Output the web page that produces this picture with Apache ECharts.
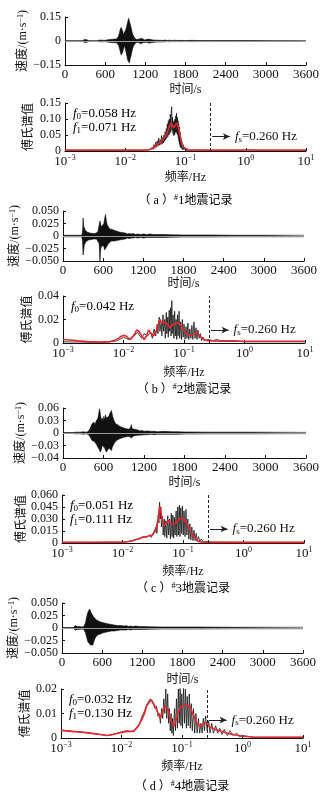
<!DOCTYPE html>
<html>
<head>
<meta charset="utf-8">
<script src="https://cdn.jsdelivr.net/npm/echarts@6.0.0/dist/echarts.min.js"></script>
<style>
html,body{margin:0;padding:0;background:#fff;}
#chart{width:326px;height:797px;}
</style>
</head>
<body>
<div id="chart"></div>
<script>
// ---------- velocity records: envelope rows [time s, upper, lower] ----------
const waveA = [[0,0.002,-0.002],[260,0.002,-0.002],[280,0.006,-0.005],[295,0.010,-0.009],[310,0.012,-0.011],[325,0.008,-0.008],[340,0.004,-0.004],[360,0.002,-0.002],[480,0.002,-0.002],[500,0.004,-0.004],[520,0.006,-0.005],[540,0.003,-0.003],[560,0.005,-0.005],[580,0.007,-0.006],[600,0.004,-0.004],[620,0.006,-0.006],[640,0.008,-0.007],[660,0.006,-0.006],[680,0.010,-0.009],[695,0.014,-0.012],[710,0.011,-0.010],[725,0.016,-0.014],[740,0.012,-0.011],[755,0.009,-0.009],[770,0.012,-0.011],[785,0.018,-0.016],[800,0.030,-0.026],[812,0.050,-0.045],[825,0.072,-0.065],[838,0.085,-0.088],[850,0.078,-0.080],[862,0.062,-0.070],[875,0.040,-0.045],[888,0.028,-0.030],[900,0.045,-0.040],[912,0.075,-0.068],[925,0.100,-0.095],[937,0.118,-0.120],[950,0.142,-0.130],[962,0.125,-0.138],[975,0.105,-0.110],[988,0.085,-0.090],[1000,0.060,-0.065],[1012,0.040,-0.045],[1025,0.028,-0.030],[1040,0.018,-0.020],[1055,0.012,-0.012],[1070,0.009,-0.009],[1090,0.008,-0.008],[1110,0.013,-0.012],[1130,0.018,-0.017],[1150,0.016,-0.015],[1170,0.010,-0.010],[1190,0.006,-0.006],[1215,0.008,-0.008],[1240,0.012,-0.011],[1260,0.014,-0.013],[1280,0.009,-0.009],[1300,0.011,-0.010],[1320,0.006,-0.006],[1345,0.008,-0.007],[1370,0.005,-0.005],[1395,0.007,-0.006],[1420,0.004,-0.004],[1445,0.006,-0.006],[1470,0.004,-0.004],[1500,0.006,-0.005],[1530,0.003,-0.003],[1560,0.005,-0.005],[1600,0.003,-0.003],[1640,0.005,-0.004],[1680,0.003,-0.003],[1720,0.004,-0.004],[1800,0.003,-0.003],[1900,0.004,-0.004],[2000,0.003,-0.003],[2200,0.003,-0.003],[2500,0.003,-0.003],[2800,0.003,-0.003],[3100,0.002,-0.002],[3400,0.002,-0.002],[3600,0.002,-0.002]];

const waveB = [[0,0.0015,-0.0015],[280,0.0015,-0.0015],[292,0.008,-0.010],[300,0.036,-0.038],[308,0.020,-0.030],[318,0.016,-0.018],[330,0.012,-0.014],[345,0.010,-0.011],[360,0.008,-0.009],[380,0.007,-0.008],[400,0.006,-0.006],[420,0.008,-0.007],[440,0.005,-0.006],[460,0.007,-0.006],[480,0.005,-0.005],[500,0.006,-0.006],[520,0.008,-0.007],[540,0.012,-0.015],[552,0.030,-0.050],[562,0.032,-0.028],[574,0.018,-0.020],[586,0.022,-0.024],[598,0.016,-0.018],[610,0.025,-0.020],[622,0.035,-0.028],[635,0.043,-0.030],[648,0.030,-0.022],[660,0.022,-0.018],[672,0.025,-0.020],[685,0.018,-0.014],[698,0.014,-0.012],[712,0.016,-0.013],[726,0.012,-0.010],[740,0.013,-0.011],[755,0.010,-0.009],[770,0.011,-0.010],[785,0.008,-0.008],[800,0.010,-0.009],[820,0.007,-0.007],[840,0.008,-0.008],[860,0.006,-0.006],[880,0.007,-0.007],[900,0.005,-0.005],[930,0.006,-0.006],[960,0.004,-0.004],[990,0.005,-0.005],[1020,0.004,-0.004],[1050,0.005,-0.004],[1080,0.003,-0.003],[1120,0.004,-0.004],[1160,0.003,-0.003],[1200,0.004,-0.004],[1250,0.003,-0.003],[1300,0.004,-0.003],[1350,0.003,-0.003],[1400,0.003,-0.003],[1500,0.003,-0.003],[1600,0.0025,-0.0025],[1800,0.002,-0.002],[2200,0.002,-0.002],[2600,0.0015,-0.0015],[3000,0.0015,-0.0015],[3600,0.0015,-0.0015]];

const waveC = [[0,0.001,-0.001],[150,0.001,-0.001],[180,0.002,-0.002],[260,0.002,-0.002],[300,0.003,-0.003],[340,0.002,-0.002],[370,0.003,-0.003],[385,0.006,-0.005],[400,0.010,-0.009],[415,0.016,-0.013],[430,0.022,-0.018],[445,0.018,-0.022],[460,0.026,-0.020],[475,0.020,-0.018],[490,0.028,-0.026],[505,0.024,-0.022],[518,0.036,-0.030],[530,0.048,-0.038],[542,0.058,-0.042],[555,0.045,-0.046],[568,0.030,-0.040],[580,0.036,-0.030],[592,0.028,-0.034],[605,0.040,-0.030],[618,0.032,-0.036],[630,0.044,-0.040],[642,0.036,-0.046],[655,0.040,-0.050],[668,0.034,-0.044],[680,0.040,-0.036],[692,0.046,-0.040],[705,0.050,-0.036],[718,0.054,-0.042],[730,0.044,-0.034],[742,0.036,-0.030],[755,0.030,-0.026],[768,0.026,-0.022],[780,0.022,-0.020],[795,0.024,-0.018],[810,0.020,-0.016],[825,0.022,-0.018],[840,0.016,-0.014],[855,0.019,-0.015],[870,0.014,-0.012],[885,0.016,-0.013],[900,0.012,-0.010],[920,0.013,-0.011],[940,0.010,-0.009],[960,0.012,-0.010],[980,0.009,-0.008],[1000,0.014,-0.009],[1012,0.020,-0.012],[1025,0.010,-0.008],[1045,0.008,-0.007],[1065,0.009,-0.007],[1085,0.006,-0.006],[1110,0.007,-0.006],[1140,0.005,-0.005],[1170,0.006,-0.005],[1200,0.004,-0.004],[1250,0.005,-0.004],[1300,0.004,-0.003],[1350,0.004,-0.004],[1400,0.003,-0.003],[1500,0.004,-0.003],[1600,0.003,-0.003],[1700,0.003,-0.003],[1800,0.0025,-0.0025],[2200,0.002,-0.002],[2800,0.002,-0.002],[3600,0.0015,-0.0015]];

const waveD = [[0,0.001,-0.001],[170,0.001,-0.001],[185,0.003,-0.003],[200,0.005,-0.004],[215,0.004,-0.004],[230,0.003,-0.003],[250,0.002,-0.002],[320,0.002,-0.002],[335,0.004,-0.004],[350,0.010,-0.009],[362,0.018,-0.016],[375,0.026,-0.022],[388,0.032,-0.028],[400,0.036,-0.030],[412,0.038,-0.032],[425,0.034,-0.034],[438,0.030,-0.036],[450,0.026,-0.038],[462,0.028,-0.034],[475,0.022,-0.028],[488,0.020,-0.022],[500,0.018,-0.020],[515,0.016,-0.016],[530,0.018,-0.016],[545,0.014,-0.013],[560,0.016,-0.014],[575,0.012,-0.012],[590,0.014,-0.012],[605,0.011,-0.010],[620,0.013,-0.011],[635,0.010,-0.009],[650,0.012,-0.010],[665,0.009,-0.008],[680,0.011,-0.009],[700,0.008,-0.007],[720,0.010,-0.008],[740,0.007,-0.006],[760,0.009,-0.007],[780,0.006,-0.006],[800,0.008,-0.006],[825,0.005,-0.005],[850,0.007,-0.006],[875,0.005,-0.004],[900,0.006,-0.005],[930,0.004,-0.004],[960,0.005,-0.004],[990,0.003,-0.003],[1020,0.004,-0.004],[1060,0.003,-0.003],[1100,0.004,-0.003],[1150,0.003,-0.003],[1200,0.003,-0.003],[1300,0.0025,-0.0025],[1500,0.002,-0.002],[2000,0.002,-0.002],[2600,0.0015,-0.0015],[3600,0.0015,-0.0015]];

// ---------- Fourier spectra [frequency Hz, amplitude] ----------
const specARaw = [[0.001,0.0015],[0.0015,0.002],[0.002,0.001],[0.003,0.0015],[0.004,0.001],[0.006,0.002],[0.008,0.001],[0.0095,0.002],[0.0100,0.006],[0.0105,0.0015],[0.013,0.002],[0.016,0.001],[0.02,0.002],[0.023,0.003],[0.026,0.005],[0.028,0.012],[0.029,0.005],[0.030,0.020],[0.031,0.008],[0.032,0.028],[0.033,0.012],[0.034,0.032],[0.035,0.015],[0.036,0.040],[0.037,0.018],[0.038,0.035],[0.039,0.020],[0.040,0.048],[0.041,0.022],[0.042,0.042],[0.043,0.025],[0.044,0.050],[0.045,0.030],[0.046,0.060],[0.047,0.035],[0.048,0.070],[0.049,0.040],[0.050,0.085],[0.051,0.045],[0.052,0.095],[0.053,0.050],[0.054,0.100],[0.055,0.055],[0.056,0.115],[0.057,0.060],[0.058,0.125],[0.059,0.138],[0.060,0.065],[0.061,0.105],[0.062,0.055],[0.063,0.090],[0.064,0.048],[0.065,0.095],[0.066,0.050],[0.067,0.100],[0.068,0.058],[0.069,0.110],[0.070,0.060],[0.071,0.118],[0.072,0.055],[0.073,0.105],[0.074,0.050],[0.075,0.095],[0.076,0.040],[0.077,0.085],[0.078,0.030],[0.079,0.075],[0.080,0.020],[0.081,0.060],[0.082,0.012],[0.083,0.045],[0.085,0.008],[0.087,0.030],[0.089,0.005],[0.091,0.020],[0.093,0.004],[0.095,0.012],[0.098,0.003],[0.10,0.007],[0.11,0.002],[0.13,0.003],[0.16,0.002],[0.2,0.002],[0.3,0.001],[0.5,0.0015],[0.8,0.001],[1.0,0.004],[1.02,0.001],[2,0.001],[5,0.001],[10,0.001]];
const specASmooth = [[0.001,0.003],[0.01,0.003],[0.02,0.003],[0.025,0.004],[0.028,0.008],[0.031,0.014],[0.034,0.020],[0.037,0.024],[0.040,0.030],[0.043,0.038],[0.046,0.045],[0.049,0.055],[0.052,0.068],[0.055,0.080],[0.058,0.087],[0.061,0.080],[0.064,0.072],[0.067,0.078],[0.071,0.087],[0.075,0.078],[0.079,0.060],[0.083,0.040],[0.087,0.022],[0.092,0.012],[0.098,0.006],[0.11,0.004],[0.15,0.003],[0.3,0.003],[1,0.003],[10,0.003]];

const specBRaw = [[0.001,0.001],[0.002,0.0008],[0.004,0.0005],[0.006,0.001],[0.008,0.002],[0.01,0.005],[0.012,0.003],[0.015,0.006],[0.017,0.009],[0.02,0.004],[0.022,0.008],[0.025,0.006],[0.028,0.009],[0.030,0.004],[0.032,0.012],[0.034,0.006],[0.036,0.016],[0.037,0.008],[0.039,0.022],[0.040,0.010],[0.042,0.018],[0.043,0.006],[0.045,0.024],[0.046,0.010],[0.048,0.020],[0.049,0.004],[0.051,0.026],[0.052,0.008],[0.054,0.022],[0.055,0.005],[0.057,0.028],[0.058,0.010],[0.060,0.030],[0.061,0.006],[0.063,0.036],[0.064,0.008],[0.066,0.024],[0.068,0.004],[0.070,0.027],[0.072,0.006],[0.074,0.020],[0.076,0.003],[0.078,0.024],[0.080,0.006],[0.083,0.027],[0.085,0.004],[0.088,0.018],[0.091,0.003],[0.094,0.020],[0.097,0.005],[0.100,0.016],[0.104,0.003],[0.108,0.014],[0.112,0.004],[0.116,0.017],[0.120,0.003],[0.125,0.012],[0.130,0.004],[0.135,0.015],[0.140,0.003],[0.146,0.018],[0.152,0.004],[0.158,0.013],[0.164,0.003],[0.170,0.011],[0.178,0.004],[0.186,0.008],[0.195,0.002],[0.205,0.005],[0.22,0.002],[0.25,0.003],[0.3,0.002],[0.35,0.003],[0.4,0.002],[0.5,0.002],[0.7,0.002],[1,0.001],[2,0.001],[5,0.001],[10,0.001]];
const specBSmooth = [[0.001,0.003],[0.0013,0.0025],[0.0018,0.0018],[0.0025,0.0012],[0.004,0.0008],[0.006,0.0012],[0.007,0.002],[0.008,0.0035],[0.009,0.0055],[0.010,0.0065],[0.011,0.006],[0.012,0.004],[0.013,0.003],[0.014,0.004],[0.015,0.007],[0.0165,0.011],[0.018,0.010],[0.020,0.006],[0.022,0.003],[0.024,0.006],[0.026,0.011],[0.028,0.009],[0.0316,0.006],[0.034,0.009],[0.037,0.014],[0.040,0.020],[0.043,0.017],[0.046,0.016],[0.049,0.018],[0.052,0.017],[0.055,0.015],[0.058,0.013],[0.062,0.015],[0.067,0.016],[0.072,0.015],[0.077,0.017],[0.081,0.018],[0.086,0.016],[0.092,0.014],[0.098,0.011],[0.104,0.009],[0.115,0.007],[0.13,0.007],[0.145,0.0075],[0.162,0.009],[0.175,0.007],[0.19,0.005],[0.21,0.003],[0.25,0.002],[0.4,0.0015],[1,0.0015],[3,0.0015],[10,0.0015]];

const specCRaw = [[0.001,0.0008],[0.003,0.0008],[0.006,0.001],[0.01,0.001],[0.013,0.002],[0.016,0.004],[0.019,0.005],[0.022,0.008],[0.025,0.007],[0.028,0.010],[0.030,0.007],[0.032,0.012],[0.034,0.010],[0.036,0.020],[0.037,0.012],[0.039,0.035],[0.040,0.025],[0.041,0.051],[0.042,0.030],[0.043,0.045],[0.044,0.020],[0.046,0.033],[0.047,0.010],[0.049,0.030],[0.050,0.008],[0.052,0.028],[0.054,0.006],[0.056,0.034],[0.058,0.010],[0.060,0.030],[0.062,0.005],[0.064,0.037],[0.066,0.008],[0.068,0.035],[0.070,0.006],[0.072,0.032],[0.074,0.010],[0.077,0.040],[0.079,0.008],[0.082,0.045],[0.084,0.010],[0.087,0.047],[0.089,0.008],[0.092,0.044],[0.095,0.012],[0.098,0.046],[0.101,0.010],[0.104,0.040],[0.108,0.008],[0.112,0.042],[0.116,0.010],[0.120,0.030],[0.125,0.005],[0.130,0.024],[0.135,0.004],[0.140,0.020],[0.146,0.003],[0.152,0.016],[0.158,0.003],[0.165,0.012],[0.172,0.002],[0.180,0.008],[0.19,0.002],[0.2,0.005],[0.22,0.001],[0.25,0.002],[0.3,0.001],[0.5,0.001],[1,0.0008],[3,0.0008],[10,0.0008]];
const specCSmooth = [[0.001,0.001],[0.003,0.001],[0.006,0.001],[0.010,0.001],[0.012,0.0015],[0.015,0.003],[0.018,0.005],[0.022,0.0075],[0.025,0.008],[0.028,0.009],[0.031,0.010],[0.033,0.011],[0.035,0.015],[0.037,0.017],[0.039,0.030],[0.041,0.046],[0.043,0.040],[0.045,0.030],[0.047,0.025],[0.050,0.022],[0.053,0.024],[0.057,0.028],[0.061,0.027],[0.065,0.024],[0.070,0.026],[0.075,0.024],[0.080,0.027],[0.087,0.031],[0.093,0.029],[0.100,0.030],[0.107,0.029],[0.114,0.026],[0.122,0.020],[0.130,0.016],[0.140,0.012],[0.150,0.008],[0.165,0.004],[0.18,0.002],[0.21,0.001],[0.3,0.0008],[1,0.0008],[10,0.0008]];

const specDRaw = [[0.001,0.0032],[0.0015,0.0028],[0.002,0.0025],[0.003,0.002],[0.004,0.0016],[0.005,0.0012],[0.006,0.001],[0.007,0.0014],[0.008,0.0018],[0.01,0.0024],[0.012,0.003],[0.014,0.0026],[0.016,0.003],[0.018,0.0045],[0.020,0.006],[0.022,0.009],[0.024,0.011],[0.026,0.0135],[0.028,0.014],[0.030,0.016],[0.032,0.015],[0.034,0.0145],[0.036,0.012],[0.038,0.013],[0.040,0.009],[0.042,0.010],[0.044,0.006],[0.046,0.012],[0.048,0.008],[0.050,0.016],[0.052,0.010],[0.054,0.020],[0.056,0.008],[0.058,0.018],[0.060,0.006],[0.062,0.012],[0.064,0.003],[0.066,0.010],[0.068,0.002],[0.070,0.008],[0.072,0.001],[0.075,0.012],[0.078,0.003],[0.081,0.016],[0.084,0.004],[0.087,0.020],[0.090,0.006],[0.093,0.021],[0.096,0.005],[0.099,0.018],[0.102,0.004],[0.106,0.021],[0.110,0.006],[0.114,0.020],[0.118,0.004],[0.122,0.017],[0.127,0.005],[0.132,0.018],[0.137,0.004],[0.142,0.014],[0.148,0.003],[0.155,0.012],[0.162,0.002],[0.170,0.010],[0.178,0.002],[0.187,0.008],[0.196,0.002],[0.205,0.006],[0.215,0.002],[0.225,0.008],[0.235,0.003],[0.245,0.009],[0.26,0.003],[0.275,0.007],[0.29,0.002],[0.31,0.006],[0.33,0.002],[0.36,0.005],[0.39,0.002],[0.42,0.004],[0.46,0.0015],[0.5,0.0035],[0.56,0.001],[0.62,0.003],[0.7,0.001],[0.8,0.002],[0.9,0.0005],[1.0,0.001],[1.5,0.0003],[3,0.0003],[10,0.0003]];
const specDSmooth = [[0.001,0.0031],[0.0015,0.0027],[0.0024,0.0023],[0.0035,0.0018],[0.0045,0.0014],[0.0057,0.001],[0.007,0.0013],[0.0084,0.0018],[0.010,0.0023],[0.0122,0.0027],[0.0158,0.0027],[0.019,0.0048],[0.0216,0.0075],[0.024,0.010],[0.026,0.013],[0.029,0.0148],[0.0316,0.0154],[0.0345,0.0136],[0.038,0.0116],[0.043,0.0082],[0.046,0.0095],[0.049,0.0116],[0.053,0.013],[0.056,0.0132],[0.059,0.0115],[0.065,0.0075],[0.072,0.0048],[0.077,0.006],[0.081,0.008],[0.086,0.010],[0.092,0.0122],[0.100,0.013],[0.112,0.0136],[0.125,0.0132],[0.135,0.013],[0.145,0.011],[0.154,0.0095],[0.165,0.0075],[0.175,0.006],[0.2,0.0048],[0.22,0.0055],[0.24,0.0064],[0.26,0.0058],[0.29,0.0045],[0.35,0.0036],[0.42,0.003],[0.55,0.002],[0.7,0.0014],[1.0,0.0007],[1.5,0.0004],[3,0.0003],[10,0.0003]];

// ---------- axis ticks and labels ----------
const timeTicks = [0, 600, 1200, 1800, 2400, 3000, 3600];
const freqTicks = [0.001, 0.01, 0.1, 1, 10];
const waveATicks = [-0.15, 0, 0.15];
const waveALabels = ['\u22120.15', '0', '0.15'];
const waveBTicks = [-0.05, -0.025, 0, 0.025, 0.05];
const waveBLabels = ['\u22120.050', '\u22120.025', '0', '0.025', '0.050'];
const waveCTicks = [-0.06, -0.03, 0, 0.03, 0.06];
const waveCLabels = ['\u22120.04', '\u22120.03', '0', '0.03', '0.06'];
const waveDTicks = [-0.05, -0.025, 0, 0.025, 0.05];
const waveDLabels = ['\u22120.050', '\u22120.025', '0', '0.025', '0.050'];
const specATicks = [0, 0.05, 0.10, 0.15];
const specALabels = ['0', '0.05', '0.10', '0.15'];
const specBTicks = [0, 0.01, 0.02, 0.03, 0.04];
const specBLabels = ['0', '0.01', '0.02', '0.03', '0.04'];
const specCTicks = [0, 0.015, 0.030, 0.045, 0.060];
const specCLabels = ['0', '0.015', '0.030', '0.045', '0.060'];
const specDTicks = [0, 0.01, 0.02];
const specDLabels = ['0', '0.01', '0.02'];

// ---------- annotations ----------
const fsValue = 0.260;
const peakFreqA = ['0.058', '0.071'];
const peakFreqB = ['0.042'];
const peakFreqC = ['0.051', '0.111'];
const peakFreqD = ['0.032', '0.130'];
const captions = ['a', 'b', 'c', 'd'];

// ---------- styling ----------
const FONT = '"Liberation Serif","DejaVu Serif","Noto Sans CJK SC",serif';
const INK = '#111';
const RED = '#e8262b';
const rich = {
  n:   { fontFamily: FONT, fontSize: 13, lineHeight: 15, color: INK },
  cn:  { fontFamily: FONT, fontSize: 12, lineHeight: 15, color: INK },
  it:  { fontFamily: FONT, fontSize: 13, lineHeight: 15, fontStyle: 'italic', color: INK },
  sup: { fontFamily: FONT, fontSize: 8, lineHeight: 9, verticalAlign: 'top', color: INK },
  sub: { fontFamily: FONT, fontSize: 9, lineHeight: 8, verticalAlign: 'bottom', color: INK }
};

function pickLabel(ticks, labels) {
  return function (v) {
    const i = ticks.findIndex(t => Math.abs(t - v) < 1e-9);
    return i < 0 ? '' : labels[i];
  };
}

const grid = [], xAxis = [], yAxis = [], series = [], graphic = [];

function baseAxis() {
  return {
    axisLine: { show: true, onZero: false, lineStyle: { color: INK, width: 1 } },
    axisTick: { show: true, inside: true, length: 3, lineStyle: { color: INK, width: 1 } },
    splitLine: { show: false },
    axisLabel: { color: INK, fontFamily: FONT, fontSize: 12, showMinLabel: true, showMaxLabel: true, hideOverlap: false },
    nameMoveOverlap: false,
    nameTextStyle: { color: INK, fontFamily: FONT, fontSize: 12, rich: rich }
  };
}

function addWave(rect, env, yTicks, yLabels, nameGapX, nameGapY) {
  const k = grid.length;
  grid.push({ left: rect[0], top: rect[1], width: rect[2], height: rect[3], containLabel: false });
  const xa = baseAxis();
  Object.assign(xa, {
    type: 'value', gridIndex: k, min: 0, max: 3600, interval: 600,
    name: '时间/s', nameLocation: 'middle', nameGap: nameGapX
  });
  xa.axisTick.customValues = timeTicks;
  xa.axisLabel.customValues = timeTicks;
  xa.axisLabel.formatter = v => String(v);
  xa.axisLabel.fontSize = 13;
  xa.axisLabel.margin = 3;
  xAxis.push(xa);
  const ya = baseAxis();
  Object.assign(ya, {
    type: 'value', gridIndex: k, min: yTicks[0], max: yTicks[yTicks.length - 1],
    name: '速度/(m·s{sup|\u22121})', nameLocation: 'middle', nameRotate: 90, nameGap: nameGapY
  });
  ya.axisTick.customValues = yTicks;
  ya.axisLabel.customValues = yTicks;
  ya.axisLabel.formatter = pickLabel(yTicks, yLabels);
  ya.axisLabel.margin = 4;
  yAxis.push(ya);
  const common = {
    type: 'line', xAxisIndex: k, yAxisIndex: k, symbol: 'none', silent: true,
    lineStyle: { color: INK, width: 0.6 }, areaStyle: { color: INK, opacity: 1 }
  };
  series.push(Object.assign({}, common, {
    data: env.map(r => [r[0], r[1]]),
    markLine: {
      silent: true, symbol: ['none', 'none'], label: { show: false },
      lineStyle: { color: '#9a9a9a', width: 1, type: 'solid' },
      data: [{ yAxis: 0 }]
    }
  }));
  series.push(Object.assign({}, common, { data: env.map(r => [r[0], r[2]]) }));
}

function addSpectrum(rect, raw, smooth, yTicks, yLabels, nameGapX, nameGapY, arrowY, peaks, caption, captionY) {
  const k = grid.length;
  grid.push({ left: rect[0], top: rect[1], width: rect[2], height: rect[3], containLabel: false });
  const xa = baseAxis();
  Object.assign(xa, {
    type: 'log', logBase: 10, gridIndex: k, min: 0.001, max: 10,
    name: '频率/Hz', nameLocation: 'middle', nameGap: nameGapX
  });
  xa.axisTick.customValues = freqTicks;
  xa.axisLabel.customValues = freqTicks;
  xa.axisLabel.margin = 3;
  xa.axisLabel.rich = rich;
  xa.axisLabel.formatter = function (v) {
    const e = Math.round(Math.log10(v));
    return '{n|10}{sup|' + (e < 0 ? '\u2212' + (-e) : e) + '}';
  };
  xAxis.push(xa);
  const ya = baseAxis();
  Object.assign(ya, {
    type: 'value', gridIndex: k, min: yTicks[0], max: yTicks[yTicks.length - 1],
    name: '傅氏谱值', nameLocation: 'middle', nameRotate: 90, nameGap: nameGapY
  });
  ya.axisTick.customValues = yTicks;
  ya.axisLabel.customValues = yTicks;
  ya.axisLabel.formatter = pickLabel(yTicks, yLabels);
  ya.axisLabel.margin = 4;
  yAxis.push(ya);

  // raw spectrum with the dashed cut-off line
  series.push({
    type: 'line', xAxisIndex: k, yAxisIndex: k, symbol: 'none', silent: true,
    lineStyle: { color: '#151515', width: 0.8 }, data: raw, z: 2,
    markLine: {
      silent: true, symbol: ['none', 'none'], label: { show: false },
      lineStyle: { type: [3, 2], color: '#222', width: 1 },
      data: [{ xAxis: fsValue }]
    }
  });
  // smoothed spectrum with the arrow pointing to the f_s note
  series.push({
    type: 'line', xAxisIndex: k, yAxisIndex: k, symbol: 'none', silent: true,
    lineStyle: { color: RED, width: 1.6 }, data: smooth, z: 3,
    markLine: {
      silent: true, symbol: ['none', 'arrow'], symbolSize: [5, 7],
      lineStyle: { type: 'solid', color: '#222', width: 1 },
      label: { show: true, position: 'end', distance: 5, rich: rich,
        formatter: '{it|f}{sub|s}{n|=' + fsValue.toFixed(3) + ' Hz}' },
      data: [[{ coord: [fsValue * 1.07, arrowY] }, { coord: [fsValue * 2.1, arrowY] }]]
    }
  });

  // peak-frequency notes in the upper-left corner
  peaks.forEach(function (p, i) {
    graphic.push({
      type: 'text', x: rect[0] + 8, y: rect[1] + 11 + i * 14,
      style: { text: '{it|f}{sub|' + i + '}{n|=' + p + ' Hz}', rich: rich, align: 'left', verticalAlign: 'middle' }
    });
  });
  // caption below the panel
  graphic.push({
    type: 'text', x: rect[0] + rect[2] / 2, y: captionY,
    style: { text: '{cn|（ ' + caption + ' ）}{sup|#}{n|' + (captions.indexOf(caption) + 1) + '}{cn|地震记录}',
      rich: rich, align: 'center', verticalAlign: 'middle' }
  });
}

addWave([65, 17, 241, 48], waveA, waveATicks, waveALabels, 19, 36);
addSpectrum([65, 103, 241, 48], specARaw, specASmooth, specATicks, specALabels, 21, 30, 0.045, peakFreqA, 'a', 201);
addWave([63, 211, 241, 50], waveB, waveBTicks, waveBLabels, 17, 42);
addSpectrum([63, 296, 242, 47], specBRaw, specBSmooth, specBTicks, specBLabels, 24, 29, 0.011, peakFreqB, 'b', 390);
addWave([63, 408, 243, 50], waveC, waveCTicks, waveCLabels, 19, 36);
addSpectrum([62, 495, 242, 48], specCRaw, specCSmooth, specCTicks, specCLabels, 23, 34, 0.0175, peakFreqC, 'c', 589);
addWave([61, 603, 242, 50], waveD, waveDTicks, waveDLabels, 21, 42);
addSpectrum([61, 689, 242, 49], specDRaw, specDSmooth, specDTicks, specDLabels, 23, 29, 0.0073, peakFreqD, 'd', 787);

const chart = echarts.init(document.getElementById('chart'), null, { renderer: 'canvas' });
chart.setOption({
  animation: false,
  backgroundColor: '#fff',
  grid: grid, xAxis: xAxis, yAxis: yAxis, series: series, graphic: graphic
});
</script>
</body>
</html>
